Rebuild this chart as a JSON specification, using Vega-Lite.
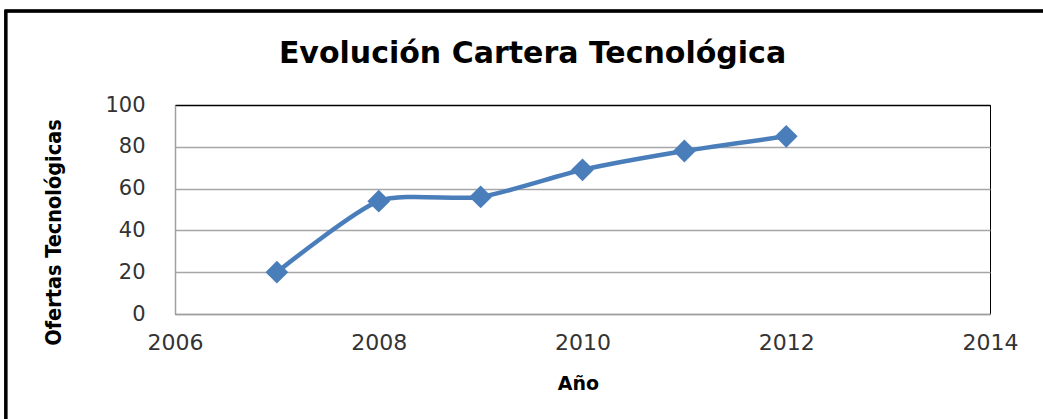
{
  "$schema": "https://vega.github.io/schema/vega-lite/v6.json",
  "width": 815,
  "height": 209,
  "autosize": {"type": "none"},
  "padding": {"left": 175, "top": 105, "right": 53, "bottom": 105},
  "background": "white",
  "config": {
    "view": {"stroke": "black", "strokeWidth": 1}
  },
  "title": {
    "text": "Evolución Cartera Tecnológica",
    "font": "DejaVu Sans",
    "fontSize": 30,
    "fontWeight": "bold",
    "color": "black",
    "anchor": "middle",
    "dx": -50,
    "offset": -59
  },
  "data": {
    "values": [
      {"anio": 2007, "ofertas": 20},
      {"anio": 2008, "ofertas": 54},
      {"anio": 2009, "ofertas": 56},
      {"anio": 2010, "ofertas": 69},
      {"anio": 2011, "ofertas": 78},
      {"anio": 2012, "ofertas": 85}
    ]
  },
  "encoding": {
    "x": {
      "field": "anio",
      "type": "quantitative",
      "scale": {"domain": [2006, 2014], "nice": false, "zero": false},
      "axis": {
        "title": "Año",
        "values": [2006, 2008, 2010, 2012, 2014],
        "format": "d",
        "grid": false,
        "ticks": false,
        "tickSize": 0,
        "domainColor": "#a0a0a0",
        "domainWidth": 1.5,
        "labelFont": "DejaVu Sans",
        "labelFontSize": 22,
        "labelColor": "#333333",
        "labelPadding": 18,
        "labelFlush": false,
        "titleFont": "DejaVu Sans",
        "titleFontSize": 19,
        "titleFontWeight": "bold",
        "titleColor": "black",
        "titleX": 403,
        "titleY": 69,
        "titleBaseline": "middle"
      }
    },
    "y": {
      "field": "ofertas",
      "type": "quantitative",
      "scale": {"domain": [0, 100], "nice": false},
      "axis": {
        "title": "Ofertas Tecnológicas",
        "values": [0, 20, 40, 60, 80, 100],
        "grid": true,
        "gridColor": {"condition": {"test": "datum.value === 100", "value": "black"}, "value": "#a6a6a6"},
        "gridWidth": 1.5,
        "ticks": false,
        "tickSize": 0,
        "domainColor": "#a0a0a0",
        "domainWidth": 1.5,
        "labelFont": "DejaVu Sans",
        "labelFontSize": 21,
        "labelColor": "#333333",
        "labelPadding": 30,
        "titleFont": "DejaVu Sans Condensed",
        "titleFontSize": 21.5,
        "titleFontWeight": "bold",
        "titleColor": "black",
        "titleAngle": -90,
        "titleX": -121,
        "titleY": 127,
        "titleAlign": "center",
        "titleBaseline": "middle"
      }
    }
  },
  "layer": [
    {
      "mark": {"type": "rect", "fill": null, "stroke": "black", "strokeWidth": 2.5, "clip": false},
      "encoding": {
        "x": {"datum": 2004.34, "type": "quantitative"},
        "x2": {"datum": 2016.5},
        "y": {"datum": 145, "type": "quantitative"},
        "y2": {"datum": -60}
      }
    },
    {
      "mark": {"type": "line", "color": "#4a7ebb", "strokeWidth": 4.5, "interpolate": "cardinal", "tension": 0.3}
    },
    {
      "mark": {"type": "point", "shape": "diamond", "filled": true, "opacity": 1, "color": "#4a7ebb", "size": 520}
    }
  ]
}
